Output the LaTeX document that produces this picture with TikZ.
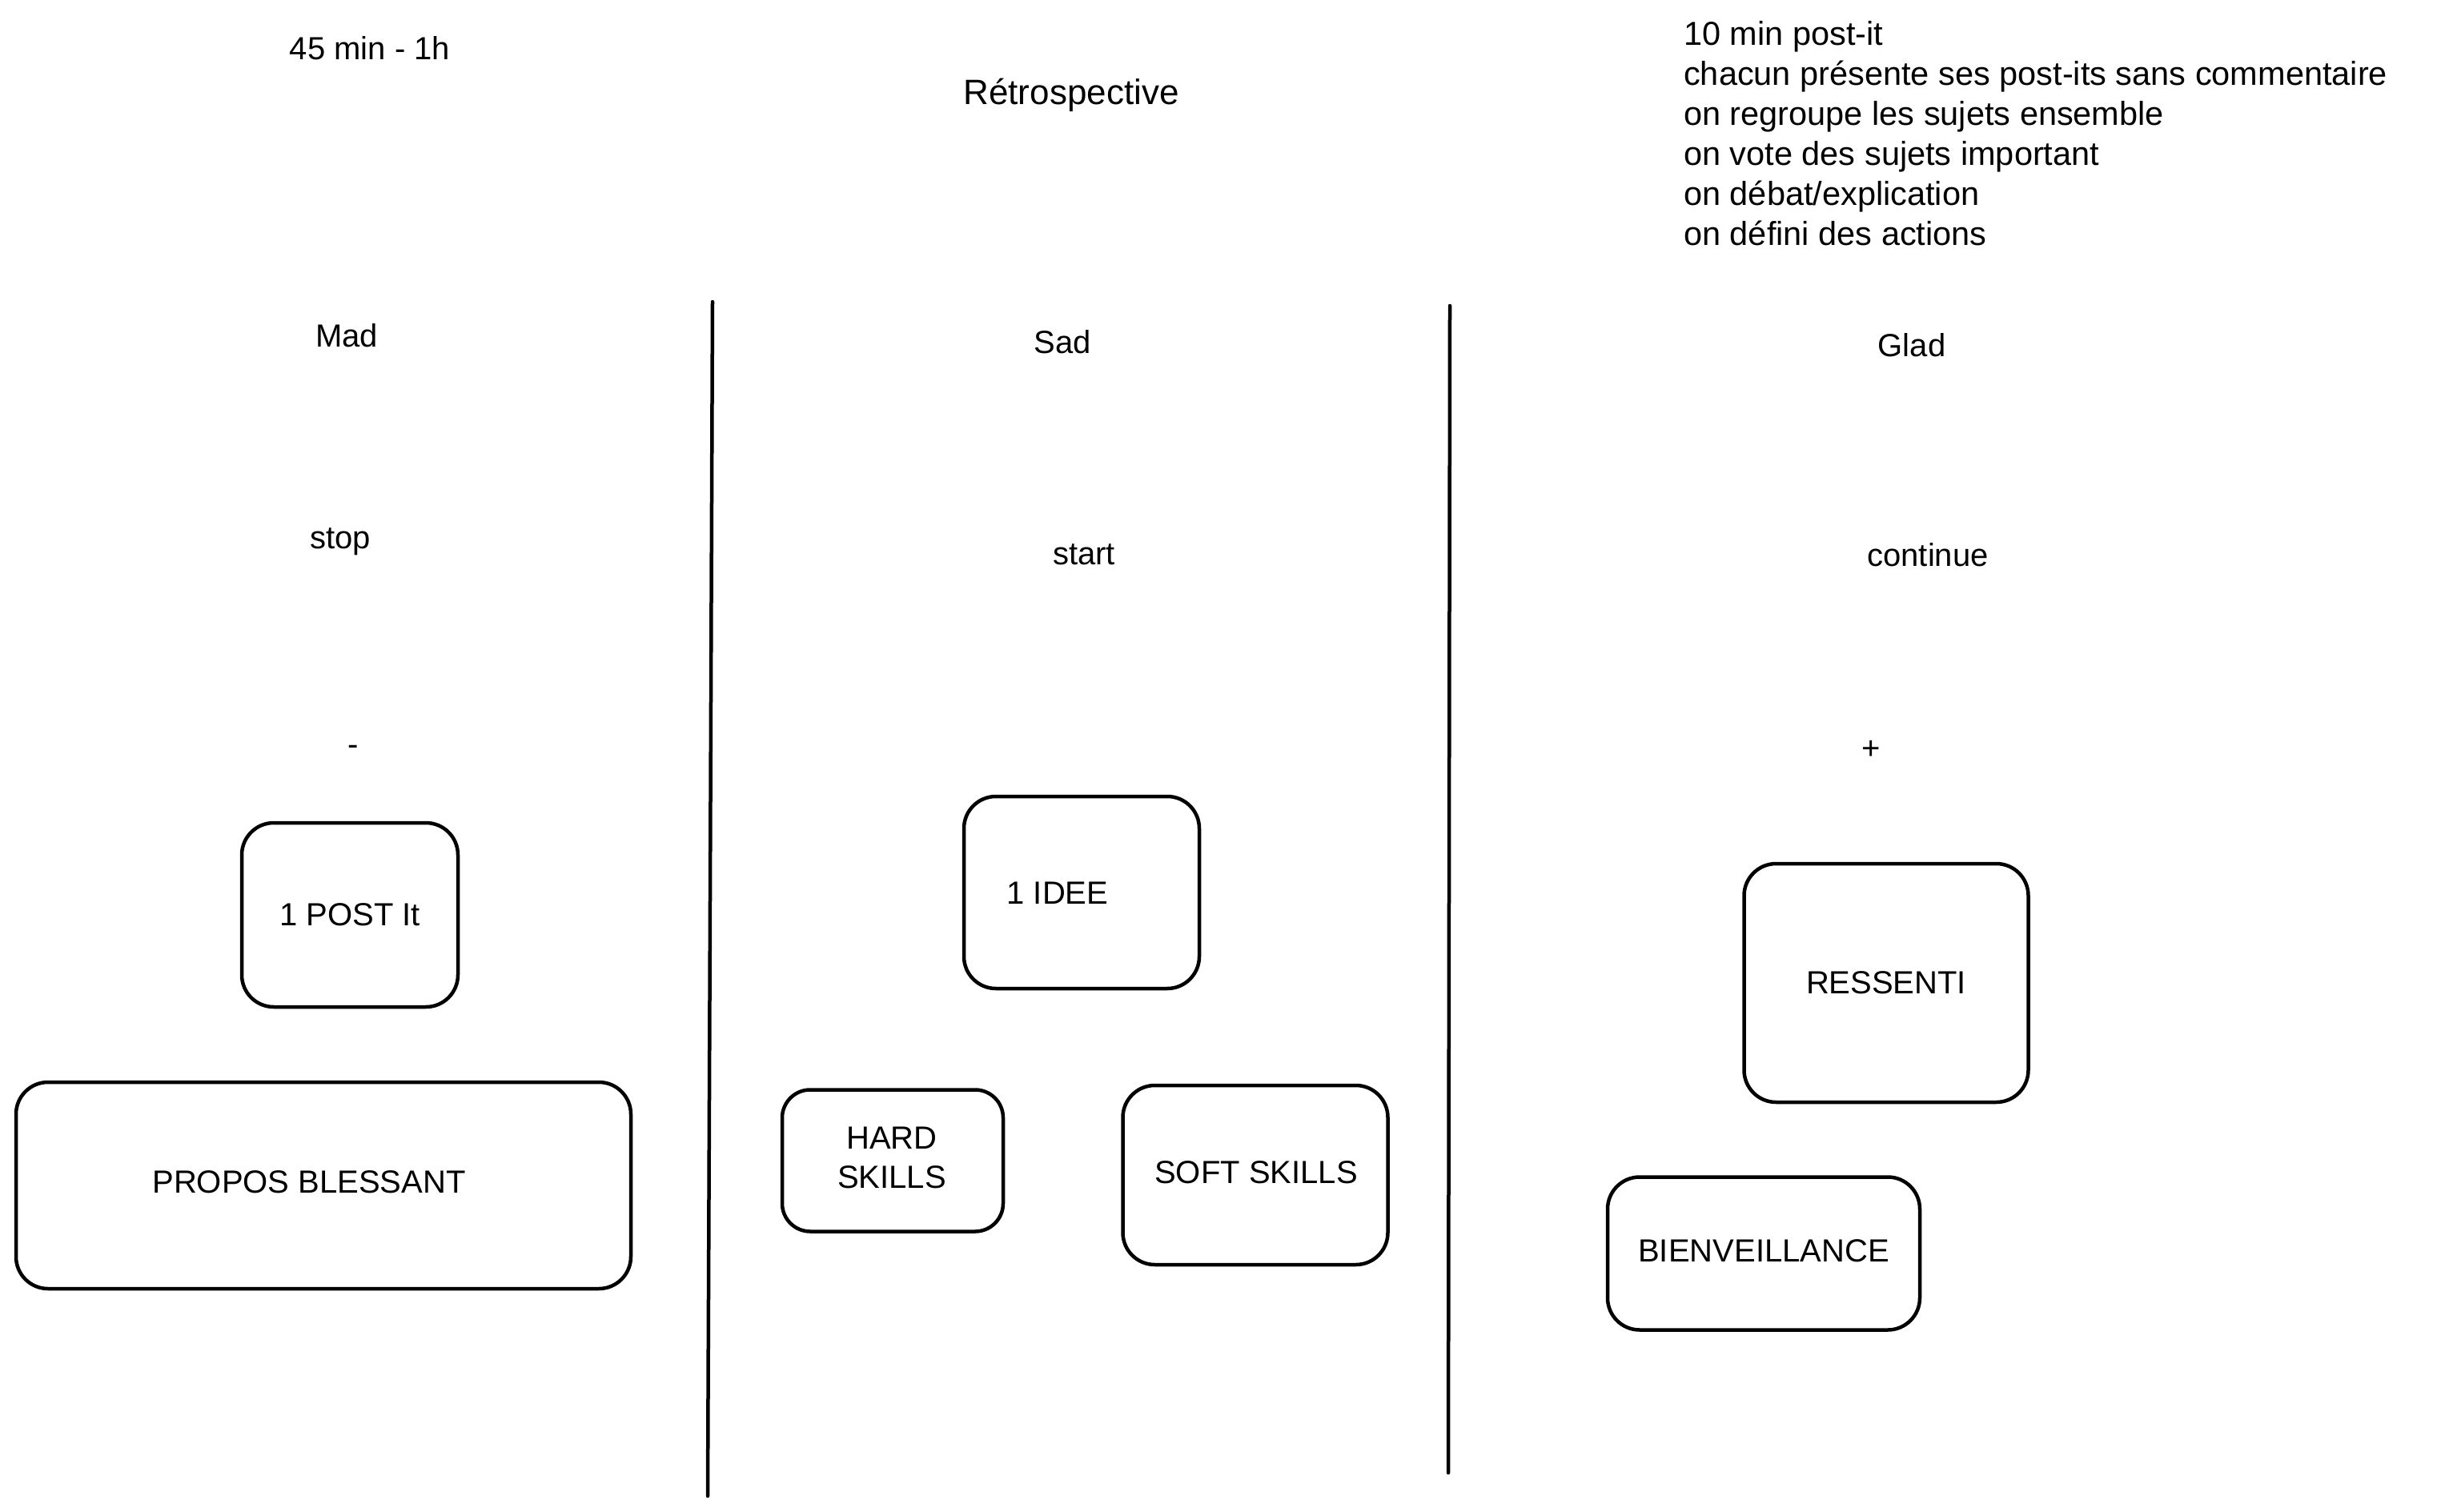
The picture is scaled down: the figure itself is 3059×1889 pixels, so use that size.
\documentclass[tikz,border=0pt]{standalone}
\usepackage{fontspec}
\setmainfont{Liberation Sans}
\begin{document}
\begin{tikzpicture}[x=1pt,y=-1pt,
  txt/.style={font=\fontsize{40}{49}\selectfont, inner sep=0pt, align=center},
  box/.style={draw, line width=4.5pt, rounded corners=40pt, inner sep=0pt,
    font=\fontsize{40}{49}\selectfont, align=center},
  divider/.style={line width=4.5pt, line cap=round}]
\useasboundingbox (0,0) rectangle (3059,1889);
\fill[white] (0,0) rectangle (3059,1889);
% headings
\node[txt] (dur) at (462,60) {45 min - 1h};
\node[txt, font=\fontsize{44}{50}\selectfont] (title) at (1338,119) {Rétrospective};
\node[font=\fontsize{41.5}{50}\selectfont, inner sep=0pt, anchor=base west, align=left] (steps) at (2103,306) {10 min post-it\\
chacun présente ses post-its sans commentaire\\
on regroupe les sujets ensemble\\
on vote des sujets important\\
on débat/explication\\
on défini des actions};
% column heads
\node[txt] (mad) at (433,419) {Mad};
\node[txt] (sad) at (1327,427) {Sad};
\node[txt] (glad) at (2388,431) {Glad};
\node[txt] (stop) at (425,677) {stop};
\node[txt] (start) at (1354,693) {start};
\node[txt] (cont) at (2408,693) {continue};
\node[txt] (minus) at (441,937) {-};
\node[txt] (plus) at (2337,937) {+};
% dividers
\coordinate (d1a) at (890,377);
\coordinate (d1b) at (884,1869);
\coordinate (d2a) at (1811,382);
\coordinate (d2b) at (1809,1840);
\draw[divider] (d1a) -- (d1b);
\draw[divider] (d2a) -- (d2b);
% boxes
\node[box, minimum width=270pt, minimum height=230pt] (post) at (437,1143) {1 POST It};
\node[box, minimum width=768pt, minimum height=258pt] (propos) at (404,1481) {};
\node[txt] (proposl) at (386,1477) {PROPOS BLESSANT};
\node[box, minimum width=294pt, minimum height=240pt] (idee) at (1351,1115) {};
\node[txt] (ideel) at (1321,1116) {1 IDEE};
\node[box, minimum width=276pt, minimum height=177pt, rounded corners=35pt] (hard) at (1115,1450) {};
\node[txt] (hardl) at (1114,1446) {HARD\\SKILLS};
\node[box, minimum width=331pt, minimum height=224pt] (soft) at (1568,1468) {};
\node[txt] (softl) at (1569,1465) {SOFT SKILLS};
\node[box, minimum width=355pt, minimum height=298pt] (ress) at (2356,1228) {RESSENTI};
\node[box, minimum width=390pt, minimum height=191pt] (bien) at (2203,1566) {};
\node[txt] (bienl) at (2203,1563) {BIENVEILLANCE};
\end{tikzpicture}
\end{document}
